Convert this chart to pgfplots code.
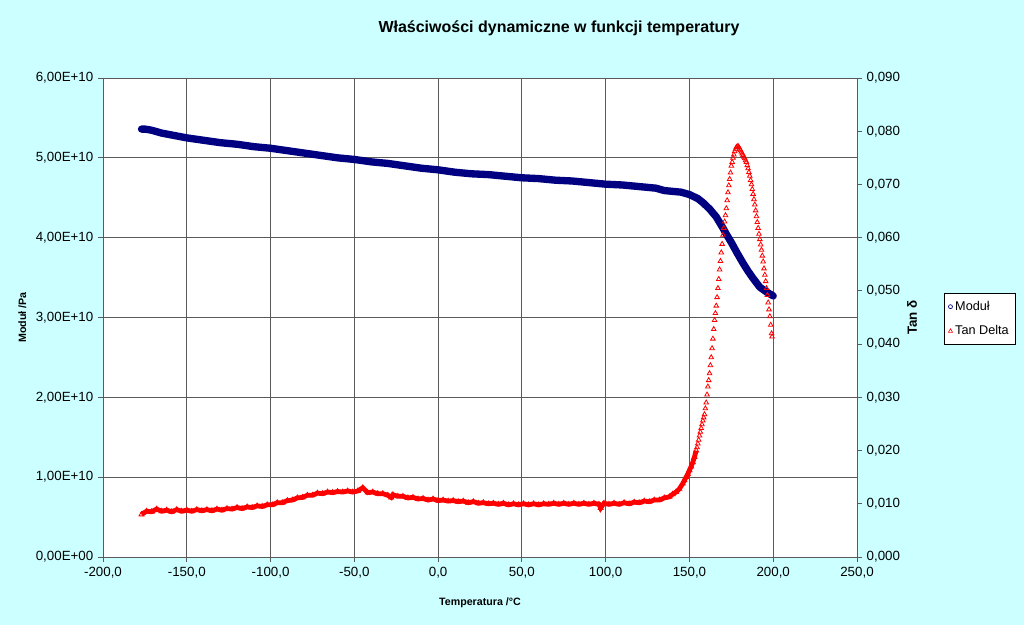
\documentclass[border=0pt]{standalone}
\usepackage{pgfplots}
\pgfplotsset{compat=1.18}
\usepackage{fontspec}
\setmainfont{Liberation Sans}
\definecolor{bgcyan}{RGB}{204,255,255}
\definecolor{navyblue}{RGB}{0,0,128}
\definecolor{gridgray}{RGB}{90,90,90}
\begin{document}
\begin{tikzpicture}
\fill[bgcyan] (0,0) rectangle (768pt,468.75pt);
\useasboundingbox (0,0) rectangle (768pt,468.75pt);
\node[font=\fontsize{12}{14}\selectfont\bfseries] at (419.25pt,447.75pt) {Właściwości dynamiczne w funkcji temperatury};
\begin{axis}[
  at={(77.25pt,51pt)}, anchor=south west,
  width=565.5pt, height=359.25pt, scale only axis,
  axis background/.style={fill=white},
  xmin=-200, xmax=250, ymin=0, ymax=6,
  xtick={-200,-150,-100,-50,0,50,100,150,200,250},
  xticklabels={{-200,0},{-150,0},{-100,0},{-50,0},{0,0},{50,0},{100,0},{150,0},{200,0},{250,0}},
  ytick={0,1,2,3,4,5,6},
  yticklabels={{0,00E+00},{1,00E+10},{2,00E+10},{3,00E+10},{4,00E+10},{5,00E+10},{6,00E+10}},
  xtick pos=bottom, ytick pos=left,
  tick align=outside, major tick length=3.75pt,
  tick style={gridgray, line width=0.75pt},
  axis line style={gridgray, line width=0.75pt},
  grid=major, grid style={gridgray, line width=0.75pt},
  tick label style={font=\fontsize{10}{12}\selectfont},
  xlabel={Temperatura /°C},
  xlabel style={font=\fontsize{8}{10}\selectfont\bfseries, at={(axis description cs:0.5,-0.096)}, anchor=center},
  ylabel={Moduł /Pa},
  ylabel style={font=\fontsize{8}{10}\selectfont\bfseries, at={(axis description cs:-0.107,0.5)}, anchor=center},
]
\addplot[navyblue, line width=5.5pt, line cap=round, line join=round] table {
x y
-177 5.36
-175 5.36
-172 5.35
-170 5.34
-165 5.31
-160 5.29
-155 5.27
-150 5.25
-140 5.22
-130 5.19
-120 5.17
-110 5.14
-100 5.12
-90 5.09
-80 5.06
-70 5.03
-60 5.00
-50 4.98
-40 4.95
-30 4.93
-20 4.90
-10 4.87
0 4.85
10 4.82
20 4.80
30 4.79
40 4.77
50 4.75
60 4.74
70 4.72
80 4.71
90 4.69
100 4.67
110 4.66
120 4.64
130 4.62
135 4.59
140 4.58
145 4.57
150 4.54
155 4.49
158 4.44
162 4.36
166 4.26
170 4.12
172.4 4.03
175 3.94
178.4 3.81
182 3.68
185 3.58
188 3.49
192 3.38
196 3.32
200 3.27
};
\end{axis}
\begin{axis}[
  at={(77.25pt,51pt)}, anchor=south west,
  width=565.5pt, height=359.25pt, scale only axis,
  xmin=-200, xmax=250, ymin=0, ymax=0.09,
  axis x line=none, axis y line*=right,
  scaled y ticks=false,
  ytick={0,0.01,0.02,0.03,0.04,0.05,0.06,0.07,0.08,0.09},
  yticklabels={{0,000},{0,010},{0,020},{0,030},{0,040},{0,050},{0,060},{0,070},{0,080},{0,090}},
  tick align=outside, major tick length=3.75pt,
  tick style={gridgray, line width=0.75pt},
  axis line style={gridgray, line width=0.75pt},
  tick label style={font=\fontsize{10}{12}\selectfont},
  ylabel={Tan δ},
  ylabel style={font=\fontsize{10}{12}\selectfont\bfseries, at={(axis description cs:1.073,0.5)}, anchor=center, rotate=0},
  legend style={at={(axis description cs:1.163,0.497)}, anchor=center, draw=black, fill=white,
    font=\fontsize{9.5}{11}\selectfont, line width=0.5pt, row sep=6pt, inner xsep=3pt, inner ysep=4pt},
  legend cell align=left,
]
\addlegendimage{only marks, mark=o, mark size=1.5pt, navyblue, mark options={line width=0.5pt}}
\addlegendentry{Moduł}
\addlegendimage{only marks, mark=triangle, mark size=1.8pt, red, mark options={line width=0.5pt}}
\addlegendentry{Tan Delta}
\addplot[red, line width=3.6pt, mark=triangle, mark size=2.2pt, mark options={line width=0.6pt}, forget plot] table {
x y
-177 0.0080
-174 0.0086
-171 0.0085
-168 0.0090
-165 0.0086
-162 0.0088
-159 0.0085
-156 0.0089
-153 0.0086
-150 0.0088
-147 0.0086
-144 0.0089
-141 0.0087
-138 0.0089
-135 0.0087
-132 0.0090
-129 0.0088
-126 0.0091
-123 0.0090
-120 0.0093
-117 0.0091
-114 0.0094
-111 0.0093
-108 0.0096
-105 0.0095
-102 0.0098
-99 0.0098
-96 0.0102
-93 0.0102
-90 0.0106
-87 0.0107
-84 0.0111
-81 0.0112
-78 0.0116
-75 0.0116
-72 0.0120
-69 0.0119
-66 0.0122
-63 0.0121
-60 0.0123
-57 0.0122
-54 0.0124
-51 0.0122
-48 0.0124
-45 0.0130
-42 0.0121
-39 0.0122
-36 0.0119
-33 0.0119
-30 0.0116
-28 0.0112
-27 0.0117
-24 0.0114
-21 0.0114
-18 0.0111
-15 0.0112
-12 0.0109
-9 0.0110
-6 0.0107
-3 0.0109
0 0.0106
3 0.0107
6 0.0105
9 0.0106
12 0.0104
15 0.0105
18 0.0102
21 0.0104
24 0.0101
27 0.0102
30 0.0100
33 0.0101
36 0.0099
39 0.0101
42 0.0098
45 0.0100
48 0.0098
51 0.0100
54 0.0098
57 0.0100
60 0.0098
63 0.0100
66 0.0099
69 0.0101
72 0.0099
75 0.0101
78 0.0099
81 0.0101
84 0.0099
87 0.0101
90 0.0099
93 0.0101
96 0.0099
97 0.0092
99 0.0101
102 0.0099
105 0.0101
108 0.0099
111 0.0102
114 0.0100
117 0.0103
120 0.0102
123 0.0105
126 0.0104
129 0.0107
132 0.0107
135 0.0111
138 0.0113
140 0.0118
142 0.0122
144 0.0128
146 0.0138
147 0.0144
148 0.0150
149 0.0156
150 0.0163
151 0.0170
152 0.0178
153 0.0188
154 0.0200
};
\addplot[red, only marks, mark=triangle, mark size=2pt, mark options={line width=0.6pt}, forget plot] table {
x y
154.5 0.0206
155 0.0213
155.5 0.0220
156 0.0228
156.5 0.0235
157 0.0242
157.5 0.0249
158 0.0256
158.5 0.0262
159 0.0268
159.5 0.0279
160 0.0290
160.5 0.0305
161 0.0320
161.5 0.0332
162 0.0345
162.5 0.0360
163 0.0375
163.5 0.0392
164 0.0410
164.5 0.0428
165 0.0445
165.5 0.0458
166 0.0472
166.5 0.0488
167 0.0505
167.5 0.0522
168 0.0540
168.5 0.0556
169 0.0572
169.5 0.0588
170 0.0605
170.5 0.0618
171 0.0630
171.5 0.0642
172 0.0655
172.5 0.0670
173 0.0685
173.5 0.0698
174 0.0710
174.5 0.0722
175 0.0735
175.5 0.0742
176 0.0750
176.5 0.0756
177 0.0762
177.5 0.0766
178 0.0770
178.5 0.0771
179 0.0772
179.5 0.0770
180 0.0767
180.5 0.0764
181 0.0761
181.5 0.0758
182 0.0755
182.5 0.0752
183 0.0749
183.5 0.0745
184 0.0742
184.5 0.0736
185 0.0730
185.5 0.0723
186 0.0716
186.5 0.0708
187 0.0700
187.5 0.0691
188 0.0682
188.5 0.0672
189 0.0662
189.5 0.0651
190 0.0640
190.5 0.0629
191 0.0618
191.5 0.0607
192 0.0597
192.5 0.0587
193 0.0577
193.5 0.0566
194 0.0555
194.5 0.0542
195 0.0530
195.5 0.0518
196 0.0505
196.5 0.0492
197 0.0478
197.5 0.0465
198 0.0452
198.5 0.0436
199 0.0420
199.3 0.0414
};
\end{axis}
\end{tikzpicture}
\end{document}
